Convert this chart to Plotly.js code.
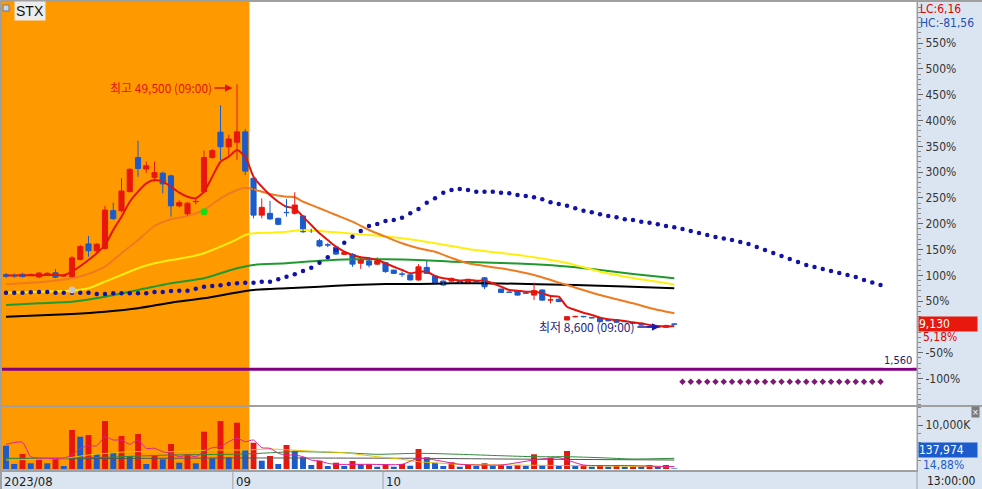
<!DOCTYPE html>
<html><head><meta charset="utf-8">
<script src="https://cdn.plot.ly/plotly-3.0.1.min.js"></script>
<style>html,body{margin:0;padding:0;background:#fff;overflow:hidden}#chart{width:982px;height:489px}</style>
</head><body><div id="chart"></div>
<script>
// ---- data ----
const opens  = [17500,17350,17550,17450,17100,17650,17800,17250,17100,20050,22650,21500,21900,28250,28250,31450,37200,35250,33850,34550,34100,29050,27700,29750,31450,37200,41450,39000,39750,41500,
 33700,27500,27800,26950,27950,27800,27350,24900,23200,22500,22100,20900,20900,19400,19800,19250,19500,18250,17600,17450,16600,18700,17250,16400,16400,16400,16200,16350,16950,15950,
 15050,14550,14800,14400,14050,14900,13200,13350,9860,10400,10420,10250,10140,9760,9860,9600,9350,9050,8750,8700,8650,9200];
const highs  = [17750,17650,17800,17700,17900,17900,18450,17500,20650,22500,24000,22800,29050,29600,33750,35400,40000,36500,36500,34800,34300,30000,29700,30300,38350,38600,46000,41000,49500,42000,
 34000,30300,29900,27100,30200,31350,27500,25200,23500,22800,22200,21300,21100,20200,20400,20400,19650,18300,18000,17550,19250,19800,17400,16500,17000,16500,16800,16450,17100,16150,
 15150,14650,14900,14500,16150,15000,13750,13450,10500,10600,10550,10350,10200,9850,9900,9700,9400,9150,8800,8750,9000,9250];
const lows   = [16900,16950,17000,17250,16900,17500,16900,17100,17000,19900,20500,21300,21700,26700,28000,31300,33950,34600,33100,31150,27250,28800,27400,29300,31200,37000,36750,37300,36750,34250,
 26950,26950,26700,25800,27250,27600,24500,24500,22100,22100,20800,20800,18800,18450,18700,19100,17800,17600,17100,16500,16450,17600,16000,15600,16300,15950,16100,16150,15050,15850,
 14400,14400,13950,14250,13200,13100,12650,12850,9800,10300,10300,10100,9500,9650,9400,9500,9200,8950,8650,8600,8620,9050];
const closes = [17200,17250,17150,17500,17750,17700,17050,17300,20300,22200,21500,22600,28350,26900,31550,35200,35350,35800,34650,32750,29050,29600,29500,29800,37200,38350,39000,40300,41500,34900,
 27500,28800,26850,25950,27900,29200,24700,24850,22300,22450,20950,21200,19250,20050,19100,19800,18000,17700,17550,16600,18800,17700,16150,15750,16850,16050,16700,16300,15450,16050,
 14500,14500,14050,14350,14800,13200,13250,12950,10410,10450,10400,10200,9570,9720,9470,9560,9300,9000,8680,8650,8950,9130];
const volumeK = [5300,1140,3410,1295,2432,1290,2430,680,8865,7340,7730,3410,10910,3705,7500,2955,7955,1137,2955,2205,
 5680,1430,3410,1295,8480,2430,10910,2660,10520,4320,5980,1890,2955,1137,5455,4160,2660,910,1890,680,
 1430,700,1820,1070,1110,520,1070,520,1140,750,4550,2660,1430,680,1520,520,910,680,1300,680,
 910,680,910,680,3340,910,2570,680,4090,680,910,520,910,520,910,520,570,520,910,520,910,138];

const ma5X  = [0,2,4,6,7,8,10,11,12,13,14,15,16,17,18,19,20,21,22,23,24,25,26,27,28,29,30,31,32,33,34,35,36,37,38,39,40,41,42,43,44,45,46,47,48,49,50,51,52,53,54,55,56,57,58,59,60,61,62,63,64,65,66,67,68,69,70,71,72,73,74,75,76,77,78,79,80,81];
const ma5Y  = [17350,17400,17400,17450,17400,17980,19950,21080,22470,25000,27230,29750,31440,32850,33400,33120,32280,31270,30600,30330,31440,33960,36480,37320,38450,37320,33960,32280,30880,29750,28910,28640,27230,25840,24440,23310,22190,21350,20790,20400,20240,19950,19390,18820,18270,17710,17980,17980,17260,16870,16700,16500,16590,16470,16470,16030,15460,14900,14790,14620,14620,14350,13890,13780,12090,11540,11090,10700,10240,9980,9860,9690,9470,9300,9020,8850,8730,8850];
const ma20X = [0,4,8,10,12,14,16,18,20,22,24,26,28,29,30,32,34,35,36,38,40,42,44,46,48,50,52,54,56,60,64,68,72,76,78,81];
const ma20Y = [15860,16200,16870,17600,18820,21080,23310,25670,26800,27350,28360,30330,31720,32110,31840,31050,30600,30500,29760,28650,27520,26390,25000,23870,22760,21920,21350,20290,19390,18550,17430,15740,14060,12670,11880,10980];
const ma60X = [0,4,8,10,12,14,16,18,20,22,24,26,28,29,30,32,34,36,38,40,44,48,52,56,60,64,68,72,76,81];
const ma60Y = [14450,14620,14790,15190,16300,17430,18550,19390,19950,20400,21080,22190,23430,24150,24440,24540,24710,25000,24830,24610,24150,23600,22760,21800,21130,20400,19450,17980,16920,15850];
const ma120X = [0,4,8,12,16,20,24,26,28,30,34,38,42,46,50,54,60,64,68,72,76,81];
const ma120Y = [12380,12670,12940,13780,14900,16030,16870,17710,18550,19110,19390,19830,20070,20070,19950,19660,19450,19230,18860,18270,17600,16870];
const ma240X = [0,8,12,16,20,24,28,30,34,38,42,46,50,54,60,69,75,81];
const ma240Y = [10410,10870,11250,11830,12770,13510,14500,14900,15190,15460,15740,15910,15910,16030,16000,15740,15500,15190];

// leading dotted line (index 0..106)
const leadDots = [14450,14450,14450,14520,14570,14570,14450,14450,14450,14450,14450,14230,14230,14350,14350,14350,14350,14350,14570,14570,
 14735,14785,14785,15120,15460,15575,15695,15910,16030,16130,16130,16300,16300,16700,17140,17545,18100,18655,19495,20405,
 21630,22860,23870,24830,25670,26005,26510,26680,27065,27805,28530,29590,30330,31270,31725,31890,31725,31440,31440,31440,
 31270,31170,30880,30715,30495,30160,29655,29370,29085,28645,28240,27975,27635,27350,27130,26795,26680,26390,26225,25955,
 25670,25450,25165,24830,24490,24155,23820,23565,23315,22975,22640,22135,21630,21125,20620,20120,19615,19110,18770,18435,
 18100,17765,17425,17090,16585,16165,15745];
const purpleDotsX = [82,83,84,85,86,87,88,89,90,91,92,93,94,95,96,97,98,99,100,101,102,103,104,105,106];
const purpleDots  = [-520,-520,-520,-520,-520,-520,-520,-520,-520,-520,-520,-520,-520,-520,-520,-520,-520,-520,-520,-520,-520,-520,-520,-520,-520];
const purpleLevel = 1560;
const signalGrayX = [8],  signalGrayY = [14900];
const signalGreenX = [24], signalGreenY = [28070];

const volMa5X = [0,2,3,5,7,8,9,10,11,12,13,14,15,16,17,18,19,20,21,22,23,24,25,26,27,28,29,30,31,32,33,34,35,36,37,38,39,40,44,48,50,52,55,60,64,67,70,75,81];
const volMa5Y = [5615,6070,2795,2430,2430,3180,4705,5295,5295,7340,6590,6590,5615,6590,4705,4705,3930,3570,2795,3180,2795,3930,4840,5070,6205,6980,6205,6590,4840,4705,3570,3180,3180,2795,2045,1820,1295,1070,1070,1070,2430,2045,1070,910,2045,2570,910,800,520];
const volMa20X = [0,7,10,15,20,25,29,32,36,40,41,45,48,50,55,60,70,81];
const volMa20Y = [2045,2430,3180,3930,3930,4320,4320,4545,4160,3795,3705,2795,2205,1660,1070,910,750,520];
const volMa60X = [0,10,20,29,35,41,45,50,55,60,64,68,72,76,81];
const volMa60Y = [2430,2570,3180,3410,3930,3705,3340,3570,3340,3020,2795,2795,2570,2275,2430];
const volMa120X = [0,29,50,60,81];
const volMa120Y = [2275,2500,2430,2275,2045];

const basePrice = 8680;
const pctTicks = [550,500,450,400,350,300,250,200,150,100,50,-50,-100];
const xLabels = ['2023/08','09','10'];
const lastPrice = '9,130', lastPct = '5,18%', lastVol = '137,974', lastVolPct = '14,88%';

// ---- build ----
const idx = closes.map((_, i) => i);
const leadX = leadDots.map((_, i) => i);
const RED = '#e8170e', BLUE = '#1b5bcc';
const volColors = volumeK.map((v, i) => (i > 0 && v > volumeK[i-1]) ? RED : BLUE);
const up = closes.map((c, i) => c >= opens[i]);
const candleColors = up.map(u => u ? RED : BLUE);
const bodyBase = opens.map((o, i) => Math.min(o, closes[i]));
const bodyLen = opens.map((o, i) => Math.max(Math.abs(closes[i] - o), 60));
function wicks(wantUp) {
  const x = [], y = [];
  idx.forEach(i => { if (up[i] === wantUp) { x.push(i, i, null); y.push(lows[i], highs[i], null); } });
  return {x, y};
}
const wUp = wicks(true), wDn = wicks(false);

const NUM = 'Liberation Sans Narrow, DejaVu Sans Condensed, Arial Narrow, sans-serif';
const KR = 'Noto Sans CJK KR, sans-serif';

const tickvals = pctTicks.map(p => basePrice * (1 + p / 100));
const ticktext = pctTicks.map(p => p + '%');
const minorVals = [];
for (let p = -150; p <= 640; p += 10) minorVals.push(basePrice * (1 + p / 100));

const line = (x, y, color, w, ya) => ({type:'scatter', mode:'lines', x, y, yaxis: ya || 'y',
  line:{color, width:w, shape:'spline', smoothing:0.6}, hoverinfo:'skip'});

const traces = [
  {type:'bar', x: idx, y: volumeK, yaxis:'y2', width:0.72, marker:{color: volColors, line:{width:0}}, hoverinfo:'skip'},
  line(volMa120X, volMa120Y, '#555555', 1, 'y2'),
  line(volMa60X, volMa60Y, '#2e8b3a', 1, 'y2'),
  line(volMa20X, volMa20Y, '#e6c200', 1, 'y2'),
  line(volMa5X, volMa5Y, '#e0209a', 1, 'y2'),
  line(ma240X, ma240Y, '#000000', 2),
  line(ma120X, ma120Y, '#1f9a2e', 2),
  line(ma60X, ma60Y, '#ffee10', 2),
  line(ma20X, ma20Y, '#f07a1e', 2),
  line(ma5X, ma5Y, '#e3140c', 2),
  {type:'scatter', mode:'markers', x: leadX, y: leadDots, marker:{color:'#1212a8', size:4.5}, hoverinfo:'skip'},
  {type:'scatter', mode:'markers', x: purpleDotsX, y: purpleDots, marker:{color:'#7c1a72', size:5, symbol:'diamond'}, hoverinfo:'skip'},
  {type:'scatter', mode:'lines', x: wUp.x, y: wUp.y, line:{color:RED, width:1}, connectgaps:false, hoverinfo:'skip'},
  {type:'scatter', mode:'lines', x: wDn.x, y: wDn.y, line:{color:BLUE, width:1}, connectgaps:false, hoverinfo:'skip'},
  {type:'bar', x: idx, y: bodyLen, base: bodyBase, yaxis:'y', width:0.62,
   marker:{color: candleColors, line:{color: candleColors, width:1}}, hoverinfo:'skip'},
  {type:'scatter', mode:'markers', x: signalGrayX, y: signalGrayY, marker:{color:'#c8c8c8', size:7}, hoverinfo:'skip'},
  {type:'scatter', mode:'markers', x: signalGreenX, y: signalGreenY, marker:{color:'#10e010', size:7}, hoverinfo:'skip'}
];

const shapes = [
  {type:'rect', xref:'x', yref:'y domain', x0:-2, x1:29.5, y0:0, y1:1, fillcolor:'#ff9900', line:{width:0}, layer:'below'},
  {type:'rect', xref:'x', yref:'y2 domain', x0:-2, x1:29.5, y0:0, y1:1, fillcolor:'#ff9900', line:{width:0}, layer:'below'},
  {type:'line', xref:'paper', yref:'y', x0:0, x1:1, y0:purpleLevel, y1:purpleLevel, line:{color:'#800080', width:3}},
  {type:'line', xref:'paper', yref:'paper', x0:0, x1:1.08, y0:0.1368, y1:0.1368, line:{color:'#a0a0a0', width:2}},
  {type:'line', xref:'paper', yref:'paper', x0:1, x1:1, y0:-0.05, y1:1.01, line:{color:'#a0a0a0', width:1}},
  {type:'line', xref:'x', yref:'paper', x0:27.5, x1:27.5, y0:-0.05, y1:0, line:{color:'#a0a0a0', width:1}},
  {type:'line', xref:'x', yref:'paper', x0:45.7, x1:45.7, y0:-0.05, y1:0, line:{color:'#a0a0a0', width:1}},
  {type:'rect', xref:'paper', yref:'paper', x0:-0.003, x1:0, y0:-0.05, y1:1.01, fillcolor:'#a0a0a0', line:{width:0}},
  {type:'rect', xref:'paper', yref:'paper', x0:-0.003, x1:1.08, y0:1, y1:1.005, fillcolor:'#a0a0a0', line:{width:0}},
  {type:'rect', xref:'paper', yref:'paper', x0:0.0011, x1:0.0077, y0:0.9808, y1:0.9936, fillcolor:'#c9d4e6', line:{color:'#6a7a9a', width:1}}
];

const ann = (o) => Object.assign({showarrow:false, font:{family:NUM, size:12, color:'#222'}}, o);
const annotations = [
  ann({text:'STX', xref:'paper', yref:'paper', x:0, y:1, xanchor:'left', yanchor:'top', xshift:12, yshift:1,
       bgcolor:'#ececec', borderpad:1, font:{family:'Liberation Sans, Arial, sans-serif', size:14, color:'#111'}}),
  {text:'최고 49,500 (09:00)', x:27.45, y:48900, xref:'x', yref:'y', showarrow:true, ax:-18, ay:0, xanchor:'right',
   arrowhead:2, arrowsize:1, arrowwidth:1.5, arrowcolor:'#e3140c', font:{family:KR, size:12, color:'#e3140c'}},
  {text:'최저 8,600 (09:00)', x:79.2, y:8680, xref:'x', yref:'y', showarrow:true, ax:-22, ay:0, xanchor:'right',
   arrowhead:2, arrowsize:1, arrowwidth:1.5, arrowcolor:'#1a1ab0', font:{family:KR, size:12, color:'#262680'}},
  ann({text:'LC:6,16', xref:'paper', yref:'paper', x:1, y:1, xanchor:'left', yanchor:'top', xshift:1, yshift:2, font:{family:NUM, size:12, color:'#e00000'}}),
  ann({text:'HC:-81,56', xref:'paper', yref:'paper', x:1, y:1, xanchor:'left', yanchor:'top', xshift:1, yshift:-12, font:{family:NUM, size:12, color:'#1f4fb4'}}),
  ann({text:lastPrice, xref:'paper', yref:'y', x:1, y:9130, xanchor:'left', yanchor:'middle', xshift:1, width:58, align:'left',
       bgcolor:'#e8180c', borderpad:0, font:{family:NUM, size:12, color:'#ffffff'}}),
  ann({text:lastPct, xref:'paper', yref:'y', x:1, y:9130, xanchor:'left', yanchor:'middle', xshift:4, yshift:-13, font:{family:NUM, size:12, color:'#e00000'}}),
  ann({text:lastVol, xref:'paper', yref:'y2 domain', x:1, y:0.31, xanchor:'left', yanchor:'middle', xshift:1, width:58, align:'left',
       bgcolor:'#1b5bcc', borderpad:0, font:{family:NUM, size:12, color:'#ffffff'}}),
  ann({text:lastVolPct, xref:'paper', yref:'y2 domain', x:1, y:0.08, xanchor:'left', yanchor:'middle', xshift:4, font:{family:NUM, size:12, color:'#1b5bcc'}}),
  ann({text:'13:00:00', xref:'paper', yref:'paper', x:1, y:0, xanchor:'left', yanchor:'top', xshift:8, yshift:-2, font:{family:NUM, size:12, color:'#222'}}),
  ann({text:xLabels[0], xref:'paper', yref:'paper', x:0, y:0, xanchor:'left', yanchor:'top', xshift:0, yshift:-2, font:{family:NUM, size:13, color:'#222'}}),
  ann({text:xLabels[1], xref:'x', yref:'paper', x:27.5, y:0, xanchor:'left', yanchor:'top', xshift:1, yshift:-2, font:{family:NUM, size:13, color:'#222'}}),
  ann({text:xLabels[2], xref:'x', yref:'paper', x:45.7, y:0, xanchor:'left', yanchor:'top', xshift:1, yshift:-2, font:{family:NUM, size:13, color:'#222'}}),
  ann({text:'1,560', xref:'paper', yref:'y', x:1, y:purpleLevel, xanchor:'right', yanchor:'bottom', xshift:-4, yshift:1,
       bgcolor:'#ffffff', borderpad:0, font:{family:NUM, size:11, color:'#1c1c6b'}}),
  ann({text:'×', xref:'paper', yref:'y2 domain', x:1, y:0.92, xanchor:'right', yanchor:'middle', xshift:63, bgcolor:'#7a7a7a', borderpad:0,
       font:{family:NUM, size:9, color:'#ffffff'}})
];

const layout = {
  width:982, height:489,
  margin:{l:2, r:65, t:2, b:19, pad:0},
  paper_bgcolor:'#dbe5f1', plot_bgcolor:'#ffffff',
  showlegend:false, hovermode:false, dragmode:false, barmode:'overlay',
  xaxis:{range:[-0.485,110.42], anchor:'y2', showgrid:false, zeroline:false, showticklabels:false, ticks:'',
         showline:true, linecolor:'#a0a0a0', linewidth:2, fixedrange:true},
  yaxis:{domain:[0.1389,1], range:[-4440,63345], side:'right', anchor:'x', showgrid:false, zeroline:false,
         tickmode:'array', tickvals, ticktext, ticks:'outside', ticklen:5, tickcolor:'#666',
         tickfont:{family:NUM, size:12, color:'#333'}, showline:true, linecolor:'#a0a0a0', linewidth:1,
         minor:{tickmode:'array', tickvals:minorVals, ticks:'outside', ticklen:3, tickcolor:'#888'}, fixedrange:true},
  yaxis2:{domain:[0,0.1346], range:[-227,14090], side:'right', anchor:'x', showgrid:false, zeroline:false,
         tickmode:'array', tickvals:[10000], ticktext:['10,000K'], ticks:'outside', ticklen:5, tickcolor:'#666',
         tickfont:{family:NUM, size:12, color:'#333'}, showline:true, linecolor:'#a0a0a0', linewidth:1,
         minor:{tickmode:'array', tickvals:[2000,4000,6000,8000,12000,14000], ticks:'outside', ticklen:3, tickcolor:'#888'}, fixedrange:true},
  shapes, annotations
};

Plotly.newPlot('chart', traces, layout, {displayModeBar:false, staticPlot:true});
</script>
</body></html>
